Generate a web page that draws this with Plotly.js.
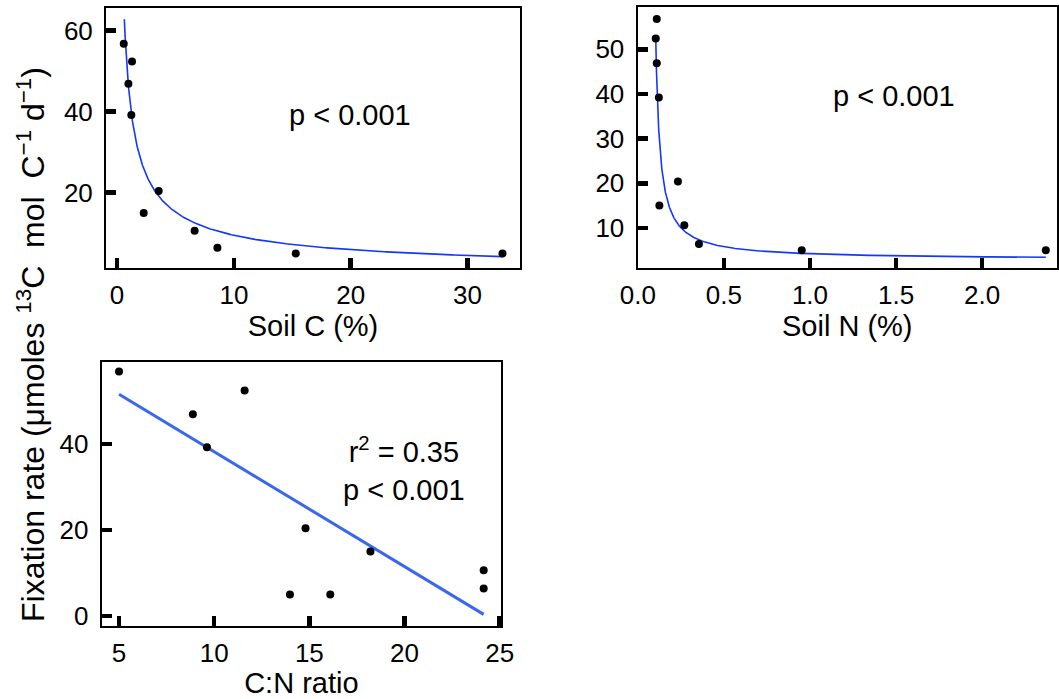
<!DOCTYPE html>
<html>
<head>
<meta charset="utf-8">
<script src="https://cdn.plot.ly/plotly-3.0.1.min.js"></script>
<style>
  html, body { margin: 0; padding: 0; background: #ffffff; }
  #chart { width: 1059px; height: 699px; }
</style>
</head>
<body>
<div id="chart"></div>
<script>
// Fixation rate per soil sample (µmoles 13C mol C-1 d-1)
const fixationRate = [56.8, 52.4, 46.9, 39.2, 20.4, 15.0, 10.6, 6.4, 5.0, 5.0];
// Soil properties of the same samples
const soilC = [0.57, 1.28, 0.97, 1.22, 3.56, 2.28, 6.64, 8.59, 15.3, 33.0];
const soilN = [0.110, 0.104, 0.110, 0.122, 0.233, 0.125, 0.270, 0.355, 0.952, 2.370];
const cnRatio = [5.0, 11.6, 8.88, 9.62, 14.8, 18.21, 24.16, 24.16, 16.1, 13.98];

// Fitted models
const powerFitC = { a: 45.4, b: -0.68, from: 0.62, to: 33.0 };          // y = a * x^b
const hyperFitN = { a: 2.9, b: 1.22, d: 0.0794, from: 0.104, to: 2.37 }; // y = a + b / (x - d)

// Tick positions and labels
const ticksC = [0, 10, 20, 30];
const ticksFixC = [20, 40, 60];
const ticksN = [0, 0.5, 1.0, 1.5, 2.0];
const tickTextN = ['0.0', '0.5', '1.0', '1.5', '2.0'];
const ticksFixN = [10, 20, 30, 40, 50];
const ticksCN = [5, 10, 15, 20, 25];
const ticksFixCN = [0, 20, 40];

function sampleCurve(fn, x0, x1, n) {
  const xs = [], ys = [];
  for (let i = 0; i <= n; i++) {
    // denser sampling near the steep left end
    const t = i / n;
    const x = x0 + (x1 - x0) * Math.pow(t, 2.2);
    xs.push(x); ys.push(fn(x));
  }
  return { xs, ys };
}

function linearFit(xs, ys) {
  const n = xs.length;
  const mx = xs.reduce((s, v) => s + v, 0) / n;
  const my = ys.reduce((s, v) => s + v, 0) / n;
  let sxy = 0, sxx = 0;
  for (let i = 0; i < n; i++) { sxy += (xs[i] - mx) * (ys[i] - my); sxx += (xs[i] - mx) ** 2; }
  const slope = sxy / sxx;
  return { slope, intercept: my - slope * mx };
}

const curveC = sampleCurve(x => powerFitC.a * Math.pow(x, powerFitC.b), powerFitC.from, powerFitC.to, 300);
const curveN = sampleCurve(x => hyperFitN.a + hyperFitN.b / (x - hyperFitN.d), hyperFitN.from, hyperFitN.to, 400);
const lin = linearFit(cnRatio, fixationRate);
const cnMin = Math.min(...cnRatio), cnMax = Math.max(...cnRatio);

const dot = { color: '#000000', size: 8 };
const fitBlue = '#1436ff';

const traces = [
  { x: curveC.xs, y: curveC.ys, xaxis: 'x', yaxis: 'y', mode: 'lines', line: { color: fitBlue, width: 1.6 }, hoverinfo: 'skip' },
  { x: soilC, y: fixationRate, xaxis: 'x', yaxis: 'y', mode: 'markers', marker: dot },
  { x: curveN.xs, y: curveN.ys, xaxis: 'x2', yaxis: 'y2', mode: 'lines', line: { color: fitBlue, width: 1.6 }, hoverinfo: 'skip' },
  { x: soilN, y: fixationRate, xaxis: 'x2', yaxis: 'y2', mode: 'markers', marker: dot },
  { x: [cnMin, cnMax], y: [lin.intercept + lin.slope * cnMin, lin.intercept + lin.slope * cnMax],
    xaxis: 'x3', yaxis: 'y3', mode: 'lines', line: { color: '#3a66f0', width: 3 }, hoverinfo: 'skip' },
  { x: cnRatio, y: fixationRate, xaxis: 'x3', yaxis: 'y3', mode: 'markers', marker: dot }
];

const W = 1059, H = 699;
const px = (a, b) => [a / W, b / W];
const py = (top, bottom) => [1 - bottom / H, 1 - top / H];

const font = 'Liberation Sans, Arial, sans-serif';
function axisBase(extra) {
  return Object.assign({
    showline: true, linecolor: '#000000', linewidth: 2, mirror: true,
    ticks: 'inside', ticklen: 10, tickwidth: 4.5, tickcolor: '#000000',
    showgrid: false, zeroline: false, fixedrange: true,
    tickfont: { family: font, size: 26, color: '#000000' }
  }, extra);
}
const yTickFont = { family: font, size: 26, color: '#000000' };
const xTitleFont = { family: font, size: 29, color: '#000000' };

const layout = {
  width: W, height: H,
  margin: { l: 0, r: 0, t: 0, b: 0 },
  paper_bgcolor: '#ffffff', plot_bgcolor: '#ffffff',
  showlegend: false,
  font: { family: font, color: '#000000' },
  xaxis: axisBase({ domain: px(106, 520), anchor: 'y', range: [-0.95, 34.5], tickvals: ticksC,
    ticklabelstandoff: 3,
    title: { text: 'Soil C (%)', font: xTitleFont, standoff: 0 } }),
  yaxis: axisBase({ domain: py(8, 268), anchor: 'x', range: [1.4, 65.6], tickvals: ticksFixC,
    ticklabelstandoff: 6, tickfont: yTickFont }),
  xaxis2: axisBase({ domain: px(637.5, 1057), anchor: 'y2', range: [-0.002, 2.435], tickvals: ticksN, ticktext: tickTextN,
    ticklabelstandoff: 3,
    title: { text: 'Soil N (%)', font: xTitleFont, standoff: 0 } }),
  yaxis2: axisBase({ domain: py(7.3, 267.7), anchor: 'x2', range: [1.1, 59.4], tickvals: ticksFixN,
    ticklabelstandoff: 6, tickfont: yTickFont }),
  xaxis3: axisBase({ domain: px(101.7, 501), anchor: 'y3', range: [4.09, 25.07], tickvals: ticksCN,
    ticklabelstandoff: 3,
    title: { text: 'C:N ratio', font: xTitleFont, standoff: 0 } }),
  yaxis3: axisBase({ domain: py(361.7, 625.7), anchor: 'x3', range: [-2.26, 59.1], tickvals: ticksFixCN,
    ticklabelstandoff: 6, tickfont: yTickFont }),
  annotations: [
    { xref: 'x', yref: 'y', x: 19.9, y: 39.2, text: 'p < 0.001', showarrow: false,
      font: { family: font, size: 29, color: '#000000' } },
    { xref: 'x2', yref: 'y2', x: 1.49, y: 39.6, text: 'p < 0.001', showarrow: false,
      font: { family: font, size: 29, color: '#000000' } },
    { xref: 'x3', yref: 'y3', x: 19.96, y: 34.2, text: 'r<sup>2</sup> = 0.35<br>p < 0.001', showarrow: false,
      font: { family: font, size: 29, color: '#000000' } },
    { xref: 'paper', yref: 'paper', x: 31 / W, y: 1 - 345 / H, xanchor: 'center', yanchor: 'middle',
      textangle: -90, showarrow: false,
      text: 'Fixation rate (\u03bcmoles <sup>13</sup>C\u00a0 mol\u00a0 C<sup>\u22121</sup>\u00a0d<sup>\u22121</sup>)',
      font: { family: font, size: 32, color: '#000000' } }
  ]
};

Plotly.newPlot('chart', traces, layout, { staticPlot: true, displayModeBar: false });
</script>
</body>
</html>
